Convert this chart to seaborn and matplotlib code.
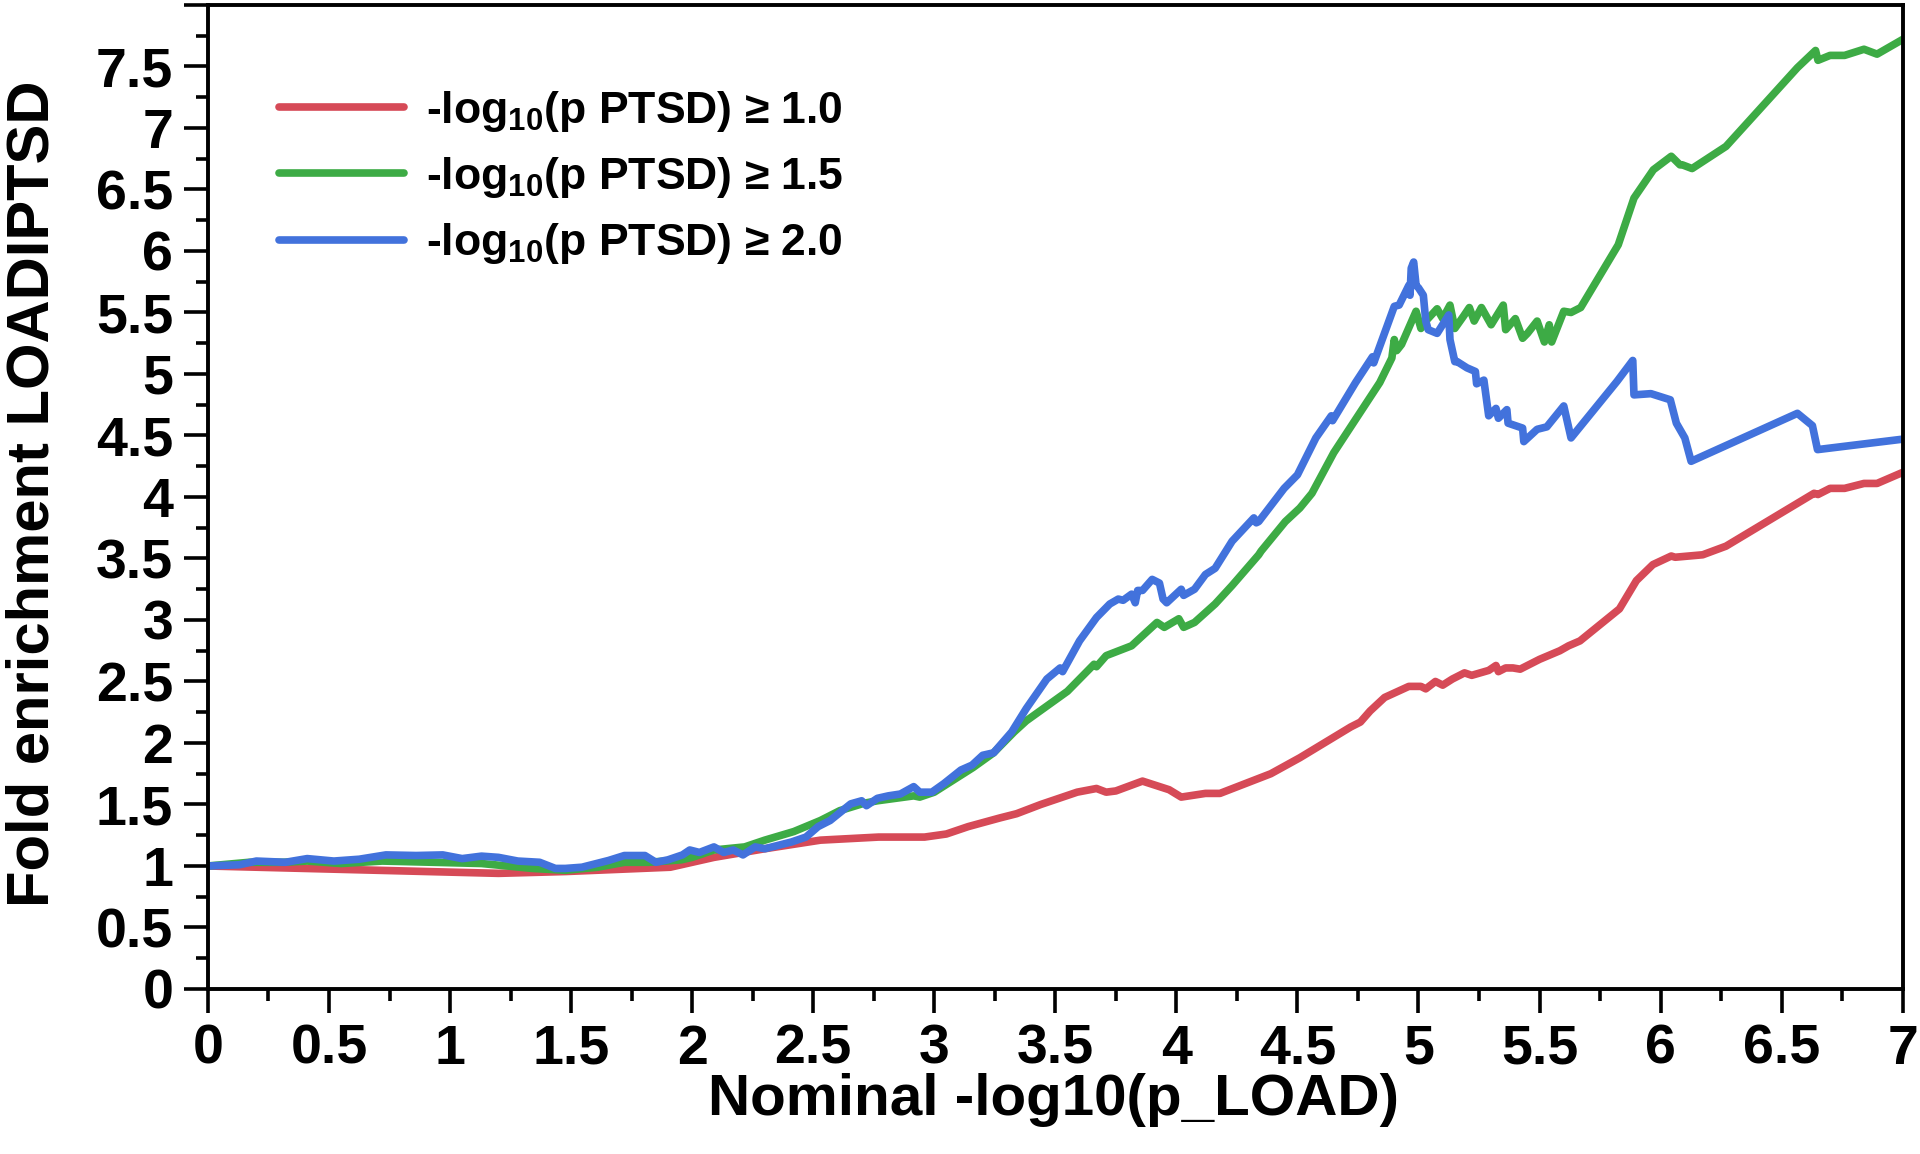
"""Fold enrichment curves: LOAD | PTSD conditional enrichment."""

import matplotlib
matplotlib.use("Agg")

import matplotlib.pyplot as plt
import numpy as np
import pandas as pd
import seaborn as sns
from matplotlib.ticker import AutoMinorLocator

sns.set_style("ticks")
plt.rcParams["font.family"] = ["Liberation Sans", "DejaVu Sans"]
plt.rcParams["font.weight"] = "bold"
plt.rcParams["mathtext.fontset"] = "custom"
plt.rcParams["mathtext.rm"] = "Liberation Sans:bold"
plt.rcParams["mathtext.bf"] = "Liberation Sans:bold"
plt.rcParams["mathtext.default"] = "bf"
# 全部文字用纯黑
for key in ["text.color", "axes.labelcolor", "xtick.color", "ytick.color",
            "xtick.labelcolor", "ytick.labelcolor"]:
    plt.rcParams[key] = "black"

# -log10(p PTSD) >= 1.0
red_x = [0.00, 0.60, 1.20, 1.48, 1.91, 2.09, 2.30, 2.53, 2.77, 2.96, 3.05, 3.14,
         3.27, 3.34, 3.44, 3.59, 3.67, 3.71, 3.75, 3.86, 3.97, 4.02, 4.12, 4.18,
         4.39, 4.51, 4.72, 4.76, 4.80, 4.86, 4.96, 5.01, 5.03, 5.07, 5.10, 5.14,
         5.19, 5.22, 5.29, 5.32, 5.33, 5.36, 5.39, 5.42, 5.50, 5.584, 5.62, 5.667,
         5.83, 5.90, 5.968, 6.044, 6.06, 6.174, 6.27, 6.634, 6.65, 6.70, 6.76,
         6.84, 6.894, 7.00]
red_y = [1.00, 0.97, 0.94, 0.955, 0.99, 1.07, 1.14, 1.21, 1.235, 1.235, 1.26, 1.32,
         1.39, 1.425, 1.50, 1.60, 1.63, 1.60, 1.61, 1.69, 1.62, 1.56, 1.59, 1.59,
         1.75, 1.88, 2.13, 2.17, 2.26, 2.37, 2.46, 2.46, 2.44, 2.50, 2.47, 2.52,
         2.57, 2.55, 2.59, 2.63, 2.58, 2.61, 2.61, 2.60, 2.68, 2.75, 2.79, 2.83,
         3.09, 3.32, 3.45, 3.52, 3.51, 3.53, 3.60, 4.03, 4.02, 4.07, 4.07,
         4.11, 4.11, 4.20]

# -log10(p PTSD) >= 1.5
green_x = [0.00, 0.17, 0.31, 0.41, 0.55, 0.72, 0.93, 1.13, 1.34, 1.476, 1.61, 1.72,
           1.82, 1.955, 2.00, 2.09, 2.217, 2.30, 2.42, 2.53, 2.61, 2.71, 2.765,
           2.915, 2.94, 3.00, 3.16, 3.245, 3.33, 3.38, 3.55, 3.66, 3.67, 3.71,
           3.815, 3.92, 3.95, 4.01, 4.03, 4.075, 4.16, 4.23, 4.34, 4.35, 4.45,
           4.51, 4.56, 4.65, 4.74, 4.75, 4.84, 4.89, 4.90, 4.91, 4.93, 4.99, 5.01,
           5.03, 5.077, 5.10, 5.13, 5.15, 5.186, 5.21, 5.23, 5.26, 5.30, 5.35,
           5.36, 5.40, 5.43, 5.45, 5.49, 5.52, 5.54, 5.55, 5.60, 5.63, 5.67,
           5.825, 5.89, 5.97, 6.044, 6.08, 6.09, 6.13, 6.27, 6.565, 6.64, 6.65,
           6.70, 6.76, 6.84, 6.894, 7.00]
green_y = [1.00, 1.03, 1.03, 1.04, 1.02, 1.04, 1.03, 1.02, 0.98, 0.965, 0.99, 1.03,
           1.03, 1.05, 1.07, 1.13, 1.155, 1.21, 1.28, 1.37, 1.45, 1.51, 1.53,
           1.57, 1.56, 1.60, 1.80, 1.92, 2.09, 2.18, 2.42, 2.64, 2.62, 2.71,
           2.79, 2.98, 2.94, 3.01, 2.94, 2.98, 3.13, 3.28, 3.53, 3.56, 3.80,
           3.91, 4.03, 4.36, 4.63, 4.66, 4.93, 5.13, 5.28, 5.19, 5.24, 5.51, 5.37,
           5.43, 5.53, 5.45, 5.56, 5.37, 5.47, 5.54, 5.43, 5.54, 5.40, 5.56,
           5.36, 5.45, 5.29, 5.33, 5.43, 5.26, 5.40, 5.26, 5.51, 5.50, 5.54,
           6.05, 6.43, 6.66, 6.77, 6.70, 6.70, 6.67, 6.85, 7.49, 7.63, 7.55,
           7.59, 7.59, 7.64, 7.60, 7.72]

# -log10(p PTSD) >= 2.0
blue_x = [0.00, 0.13, 0.20, 0.32, 0.41, 0.52, 0.625, 0.735, 0.86, 0.97, 1.05, 1.13,
          1.20, 1.28, 1.37, 1.435, 1.476, 1.545, 1.655, 1.72, 1.805, 1.85, 1.90,
          1.96, 1.99, 2.03, 2.09, 2.13, 2.17, 2.21, 2.26, 2.30, 2.41, 2.47, 2.52,
          2.57, 2.655, 2.70, 2.72, 2.765, 2.81, 2.86, 2.915, 2.94, 2.99, 3.04,
          3.11, 3.156, 3.20, 3.245, 3.32, 3.38, 3.465, 3.52, 3.53, 3.60, 3.67,
          3.725, 3.76, 3.78, 3.815, 3.83, 3.84, 3.86, 3.90, 3.93, 3.945, 3.96,
          4.02, 4.03, 4.075, 4.12, 4.16, 4.23, 4.32, 4.33, 4.34, 4.445, 4.50,
          4.576, 4.64, 4.645, 4.74, 4.81, 4.815, 4.90, 4.92, 4.96, 4.965, 4.97,
          4.98, 4.99, 5.00, 5.02, 5.03, 5.04, 5.077, 5.125, 5.13, 5.15, 5.16,
          5.20, 5.235, 5.24, 5.27, 5.29, 5.32, 5.33, 5.365, 5.37, 5.43, 5.435,
          5.49, 5.53, 5.60, 5.63, 5.82, 5.885, 5.89, 5.96, 6.04, 6.065, 6.10,
          6.126, 6.565, 6.627, 6.648, 7.00]
blue_y = [1.00, 1.01, 1.04, 1.03, 1.06, 1.04, 1.055, 1.09, 1.085, 1.09, 1.06, 1.08,
          1.07, 1.04, 1.03, 0.98, 0.98, 0.99, 1.045, 1.085, 1.085, 1.03, 1.05,
          1.09, 1.13, 1.11, 1.155, 1.11, 1.13, 1.09, 1.155, 1.14, 1.195, 1.235, 1.32,
          1.37, 1.505, 1.53, 1.49, 1.55, 1.57, 1.585, 1.645, 1.60, 1.60, 1.67,
          1.78, 1.82, 1.90, 1.92, 2.09, 2.28, 2.52, 2.61, 2.58, 2.83, 3.02,
          3.13, 3.17, 3.16, 3.21, 3.14, 3.24, 3.24, 3.33, 3.30, 3.17, 3.14,
          3.25, 3.20, 3.25, 3.37, 3.42, 3.64, 3.83, 3.79, 3.80, 4.07, 4.18,
          4.48, 4.66, 4.62, 4.93, 5.14, 5.09, 5.55, 5.56, 5.72, 5.64, 5.86,
          5.91, 5.72, 5.70, 5.64, 5.43, 5.36, 5.33, 5.48, 5.28, 5.10, 5.10,
          5.05, 5.02, 4.92, 4.95, 4.66, 4.72, 4.64, 4.71, 4.60, 4.56, 4.45,
          4.55, 4.57, 4.74, 4.48, 4.94, 5.11, 4.83, 4.84, 4.79, 4.60, 4.48,
          4.29, 4.68, 4.58, 4.385, 4.47]

series_labels = [r"-log$_{10}$(p PTSD) ≥ 1.0",
                 r"-log$_{10}$(p PTSD) ≥ 1.5",
                 r"-log$_{10}$(p PTSD) ≥ 2.0"]
series_colors = ["#D64A57", "#3DAB45", "#4272DC"]

x_ticks = np.arange(0, 7.01, 0.5)
y_ticks = np.arange(0, 8.01, 0.5)


def main() -> None:
    frames = []
    for label, xs, ys in zip(series_labels,
                             [red_x, green_x, blue_x],
                             [red_y, green_y, blue_y]):
        frames.append(pd.DataFrame({"x": xs, "y": ys, "series": label}))
    df = pd.concat(frames, ignore_index=True)

    fig = plt.figure(figsize=(19.2, 11.54), dpi=100)
    ax = fig.add_axes([0.1083, 0.1430, 0.8827, 0.8527])

    sns.lineplot(
        data=df, x="x", y="y", hue="series",
        palette=dict(zip(series_labels, series_colors)),
        hue_order=series_labels,
        estimator=None, sort=False, linewidth=5.5, ax=ax,
    )

    ax.set_xlim(0, 7)
    ax.set_ylim(0, 8)
    ax.set_xticks(x_ticks)
    ax.set_xticklabels([f"{v:g}" for v in x_ticks])
    ax.set_yticks(y_ticks)
    ax.set_yticklabels([f"{v:g}" if v < 8 else "" for v in y_ticks])
    ax.xaxis.set_minor_locator(AutoMinorLocator(2))
    ax.yaxis.set_minor_locator(AutoMinorLocator(2))
    ax.tick_params(which="major", length=17, width=2.6, labelsize=40, pad=8)
    ax.tick_params(which="minor", length=8.5, width=2.6)
    for spine in ax.spines.values():
        spine.set_linewidth(2.8)
        spine.set_color("black")

    ax.set_xlabel("Nominal -log10(p_LOAD)", fontsize=42, fontweight="bold")
    ax.set_ylabel("Fold enrichment LOADIPTSD", fontsize=43, fontweight="bold")
    ax.xaxis.set_label_coords(0.499, -0.085)
    ax.yaxis.set_label_coords(-0.087, 0.503)

    handles, labels = ax.get_legend_handles_labels()
    ax.legend(
        handles, labels, loc="upper left", bbox_to_anchor=(0.042, 0.915),
        frameon=False, fontsize=32, handlelength=2.8, handletextpad=0.5,
        labelspacing=0.48, borderpad=0, borderaxespad=0,
    )

    fig.savefig("out.png", dpi=100)
    plt.close(fig)


if __name__ == "__main__":
    main()
